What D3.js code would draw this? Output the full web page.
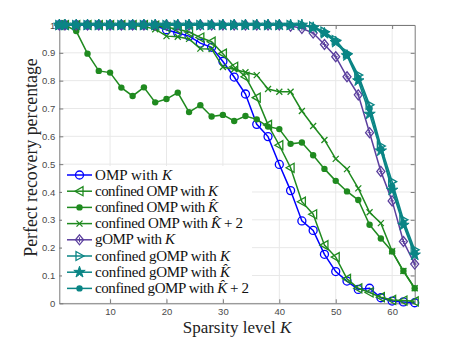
<html>
<head>
<script src="https://d3js.org/d3.v7.min.js"></script>
<style>
  body { margin: 0; background: white; }
  text { font-family: "Liberation Serif", serif; }
  .tick text { font-family: "Liberation Sans", Arial, sans-serif; }
</style>
</head>
<body>
<svg id="chart" width="458" height="341"></svg>
<script>
// sparsity levels
var kValues = [1,2,4,6,8,10,12,14,16,18,20,22,24,26,28,30,32,34,36,38,40,42,44,46,48,50,52,54,56,58,60,62,64];

var ompK = [1,1,1,1,1,1,1,1,1,0.997,0.983,0.971,0.96,0.935,0.92,0.869,0.813,0.752,0.643,0.599,0.499,0.405,0.296,0.262,0.176,0.114,0.08,0.05,0.054,0.02,0.008,0.005,0.002];
var confOmpK = [1,1,1,1,1,1,1,1,1,0.998,0.992,0.985,0.975,0.955,0.94,0.897,0.85,0.814,0.739,0.641,0.568,0.487,0.365,0.32,0.209,0.166,0.088,0.054,0.039,0.022,0.012,0.01,0.007];
var confOmpKhat = [1,1,0.978,0.897,0.835,0.829,0.775,0.745,0.776,0.722,0.734,0.757,0.687,0.712,0.671,0.677,0.655,0.673,0.661,0.635,0.626,0.573,0.578,0.532,0.483,0.44,0.402,0.371,0.282,0.233,0.186,0.116,0.054];
var confOmpKhat2 = [1,1,1,1,1,1,1,0.998,0.995,0.985,0.96,0.958,0.95,0.915,0.914,0.849,0.841,0.83,0.82,0.77,0.76,0.76,0.691,0.637,0.587,0.519,0.482,0.413,0.327,0.288,0.187,0.116,0.054];
var gompK = [1,1,1,1,1,1,1,1,1,1,1,1,1,1,1,1,1,1,1,1,1,0.996,0.988,0.971,0.93,0.886,0.814,0.749,0.613,0.474,0.368,0.222,0.141];
var confGompK = [1,1,1,1,1,1,1,1,1,1,1,1,1,1,1,1,1,1,1,1,1,1,1,0.994,0.976,0.946,0.898,0.82,0.713,0.565,0.437,0.3,0.192];
var confGompKhat = [1,1,1,1,1,1,1,1,1,1,1,1,1,1,1,1,1,1,1,1,1,1,1,0.99,0.97,0.938,0.89,0.8,0.68,0.548,0.407,0.281,0.174];
var confGompKhat2 = [1,1,1,1,1,1,1,1,1,1,1,1,1,1,1,1,1,1,1,1,1,1,1,0.992,0.973,0.942,0.894,0.81,0.7,0.555,0.42,0.29,0.182];

var xTicks = [10,20,30,40,50,60];
var yTicks = [0,0.1,0.2,0.3,0.4,0.5,0.6,0.7,0.8,0.9,1];
var yTickLabels = ["0","0.1","0.2","0.3","0.4","0.5","0.6","0.7","0.8","0.9","1"];

// legend label parts: [prefix, hat?, suffix]
var series = [
  {name:["OMP with ", false, ""], values: ompK, color:"#0000ff", marker:"o"},
  {name:["confined OMP with ", false, ""], values: confOmpK, color:"#1f8a1f", marker:"<"},
  {name:["confined OMP with ", true, ""], values: confOmpKhat, color:"#1f8a1f", marker:"."},
  {name:["confined OMP with ", true, " + 2"], values: confOmpKhat2, color:"#1f8a1f", marker:"x"},
  {name:["gOMP with ", false, ""], values: gompK, color:"#5b3f9e", marker:"d"},
  {name:["confined gOMP with ", false, ""], values: confGompK, color:"#0a8585", marker:">"},
  {name:["confined gOMP with ", true, ""], values: confGompKhat, color:"#0a8585", marker:"h"},
  {name:["confined gOMP with ", true, " + 2"], values: confGompKhat2, color:"#0a8585", marker:"."}
];
// rendered width of each legend label (LaTeX font is wider than Times)
var legendTextWidths = [77,123,123,148,80,135,135,154];

var pLeft = 59.3, pRight = 414.7, pTop = 25, pBottom = 303.3;
var xs = d3.scaleLinear().domain([1,64]).range([pLeft,pRight]);
var ys = d3.scaleLinear().domain([0,1]).range([pBottom,pTop]);

var svg = d3.select("#chart");

// grid
svg.append("g").selectAll("line").data(xTicks).enter().append("line")
  .attr("x1", d => xs(d)).attr("x2", d => xs(d))
  .attr("y1", pTop).attr("y2", pBottom)
  .attr("stroke", "#e8e8e8").attr("stroke-width", 1);
svg.append("g").selectAll("line").data(yTicks).enter().append("line")
  .attr("x1", pLeft).attr("x2", pRight)
  .attr("y1", d => ys(d)).attr("y2", d => ys(d))
  .attr("stroke", "#e8e8e8").attr("stroke-width", 1);

// axes (MATLAB style, ticks inward, box on)
var axCol = "#7a7a7a";
svg.append("g").attr("transform","translate(0,"+pBottom+")")
  .call(d3.axisBottom(xs).tickValues(xTicks).tickSizeInner(-4).tickSizeOuter(0).tickPadding(5))
  .call(g => g.select(".domain").attr("stroke", axCol))
  .call(g => g.selectAll(".tick line").attr("stroke", axCol))
  .call(g => g.selectAll(".tick text").attr("fill","#4a4a4a").style("font-size","9.5px"));
svg.append("g").attr("transform","translate("+pLeft+",0)")
  .call(d3.axisLeft(ys).tickValues(yTicks).tickFormat((d,i) => yTickLabels[i]).tickSizeInner(-4).tickSizeOuter(0).tickPadding(4))
  .call(g => g.select(".domain").attr("stroke", axCol))
  .call(g => g.selectAll(".tick line").attr("stroke", axCol))
  .call(g => g.selectAll(".tick text").attr("fill","#4a4a4a").style("font-size","9.5px"));
svg.append("g").attr("transform","translate(0,"+pTop+")")
  .call(d3.axisTop(xs).tickValues(xTicks).tickSizeInner(-4).tickSizeOuter(0).tickFormat(""))
  .call(g => g.select(".domain").attr("stroke", axCol))
  .call(g => g.selectAll(".tick line").attr("stroke", axCol));
svg.append("g").attr("transform","translate("+pRight+",0)")
  .call(d3.axisRight(ys).tickValues(yTicks).tickSizeInner(-4).tickSizeOuter(0).tickFormat(""))
  .call(g => g.select(".domain").attr("stroke", axCol))
  .call(g => g.selectAll(".tick line").attr("stroke", axCol));

function drawMarker(g, type, color, x, y) {
  if (type === "o") {
    g.append("circle").attr("cx",x).attr("cy",y).attr("r",4)
      .attr("fill","none").attr("stroke",color).attr("stroke-width",1.3);
  } else if (type === ".") {
    g.append("circle").attr("cx",x).attr("cy",y).attr("r",3.2).attr("fill",color);
  } else if (type === "<" || type === ">") {
    var s = type === "<" ? -1 : 1;
    g.append("path")
      .attr("d","M"+(x+s*4.5)+","+y+"L"+(x-s*3.5)+","+(y-4.5)+"L"+(x-s*3.5)+","+(y+4.5)+"Z")
      .attr("fill","none").attr("stroke",color).attr("stroke-width",1.3);
  } else if (type === "x") {
    g.append("path")
      .attr("d","M"+(x-3)+","+(y-3)+"L"+(x+3)+","+(y+3)+"M"+(x-3)+","+(y+3)+"L"+(x+3)+","+(y-3))
      .attr("stroke",color).attr("stroke-width",1.3);
  } else if (type === "d") {
    g.append("path")
      .attr("d","M"+x+","+(y-5)+"L"+(x+4)+","+y+"L"+x+","+(y+5)+"L"+(x-4)+","+y+"Z")
      .attr("fill","none").attr("stroke",color).attr("stroke-width",1.3);
    g.append("path")
      .attr("d","M"+(x-2)+","+y+"L"+(x+2)+","+y+"M"+x+","+(y-2.5)+"L"+x+","+(y+2.5))
      .attr("stroke",color).attr("stroke-width",1);
  } else if (type === "h") {
    g.append("path")
      .attr("d", d3.symbol().type(d3.symbolStar).size(40)())
      .attr("transform","translate("+x+","+y+")")
      .attr("fill",color).attr("stroke",color).attr("stroke-width",1);
  }
}

var line = d3.line().x((d,i) => xs(kValues[i])).y(d => ys(d));
series.forEach(function(s) {
  var g = svg.append("g");
  g.append("path").datum(s.values).attr("d", line)
    .attr("fill","none").attr("stroke", s.color).attr("stroke-width",1.5);
  s.values.forEach(function(v,i) { drawMarker(g, s.marker, s.color, xs(kValues[i]), ys(v)); });
});

// legend
var lg = svg.append("g");
lg.append("rect").attr("x",62).attr("y",166).attr("width",190).attr("height",132).attr("fill","white");
series.forEach(function(s,i) {
  var y = 175 + i*16.2;
  lg.append("line").attr("x1",67).attr("x2",92).attr("y1",y).attr("y2",y)
    .attr("stroke",s.color).attr("stroke-width",1.5);
  drawMarker(lg, s.marker, s.color, 79.5, y);
  var t = lg.append("text").attr("x",95).attr("y",y+4.5)
    .style("font-size","15px").attr("fill","#111")
    .attr("textLength", legendTextWidths[i]).attr("lengthAdjust","spacing");
  t.append("tspan").text(s.name[0]);
  t.append("tspan").style("font-style","italic").text(s.name[1] ? "K\u0302" : "K");
  if (s.name[2]) t.append("tspan").text(s.name[2]);
});

// axis titles
svg.append("text").attr("x",(pLeft+pRight)/2).attr("y",333)
  .attr("text-anchor","middle").style("font-size","17px").attr("fill","#222")
  .text("Sparsity level ")
  .append("tspan").style("font-style","italic").text("K");
svg.append("text").attr("transform","translate(37,157.5) rotate(-90)")
  .attr("text-anchor","middle").style("font-size","17.8px").attr("fill","#222")
  .text("Perfect recovery percentage");
</script>
</body>
</html>
